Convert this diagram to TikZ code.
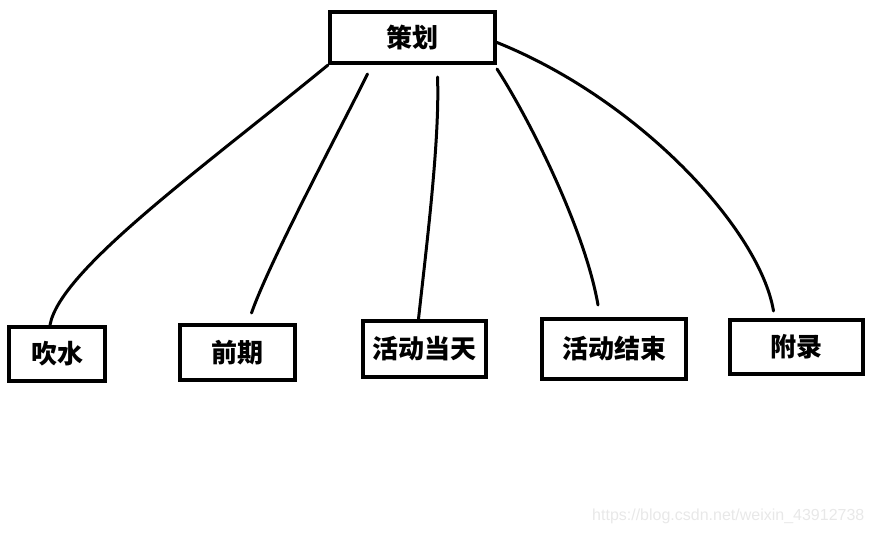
\documentclass[tikz,border=0pt]{standalone}
\usepackage{fontspec}
\setmainfont{Liberation Sans}
\newfontfamily\cjk{Noto Sans CJK SC}
\usepackage{tikz}
\usetikzlibrary{positioning}

\begin{document}
\begin{tikzpicture}[x=1pt,y=-1pt,
    box/.style={draw,line width=4pt,inner sep=0pt,font=\cjk\bfseries\fontsize{26}{30}\selectfont},
    wire/.style={line width=3pt,line cap=round}]
  \useasboundingbox (0,0) rectangle (872,533);
  \node[box,minimum width=165pt,minimum height=51pt] (plan) at (412.5,37.5) {策划};

  \node[box,minimum width=96pt,minimum height=54pt] (b1) at (57,354) {吹水};
  \node[box,minimum width=115pt,minimum height=55pt] (b2) at (237.5,352.5) {前期};
  \node[box,minimum width=123pt,minimum height=56pt] (b3) at (424.5,349) {活动当天};
  \node[box,minimum width=144pt,minimum height=60pt] (b4) at (614,349) {活动结束};
  \node[box,minimum width=133pt,minimum height=54pt] (b5) at (796.5,347) {附录};

  \draw[wire] (plan.south west) .. controls (200,170) and (60,270) .. ([xshift=-7pt]b1.north);
  \draw[wire] ([xshift=-45pt,yshift=-9pt]plan.south) .. controls (345,120) and (270,260) .. ([xshift=14pt,yshift=10pt]b2.north);
  \draw[wire] ([xshift=25pt,yshift=-12pt]plan.south) .. controls (440,140) and (426,250) .. ([xshift=-6pt]b3.north);
  \draw[wire] ([yshift=-4pt]plan.south east) .. controls (530,120) and (585,230) .. ([xshift=-16pt,yshift=12pt]b4.north);
  \draw[wire] ([yshift=-5pt]plan.east) .. controls (640,100) and (760,230) .. ([xshift=-23pt,yshift=7pt]b5.north);

  \node[anchor=base west,inner sep=0pt,text=black!9,font=\fontsize{16}{18}\selectfont] (mark) at (592,520) {https://blog.csdn.net/weixin\_43912738};
\end{tikzpicture}
\end{document}
